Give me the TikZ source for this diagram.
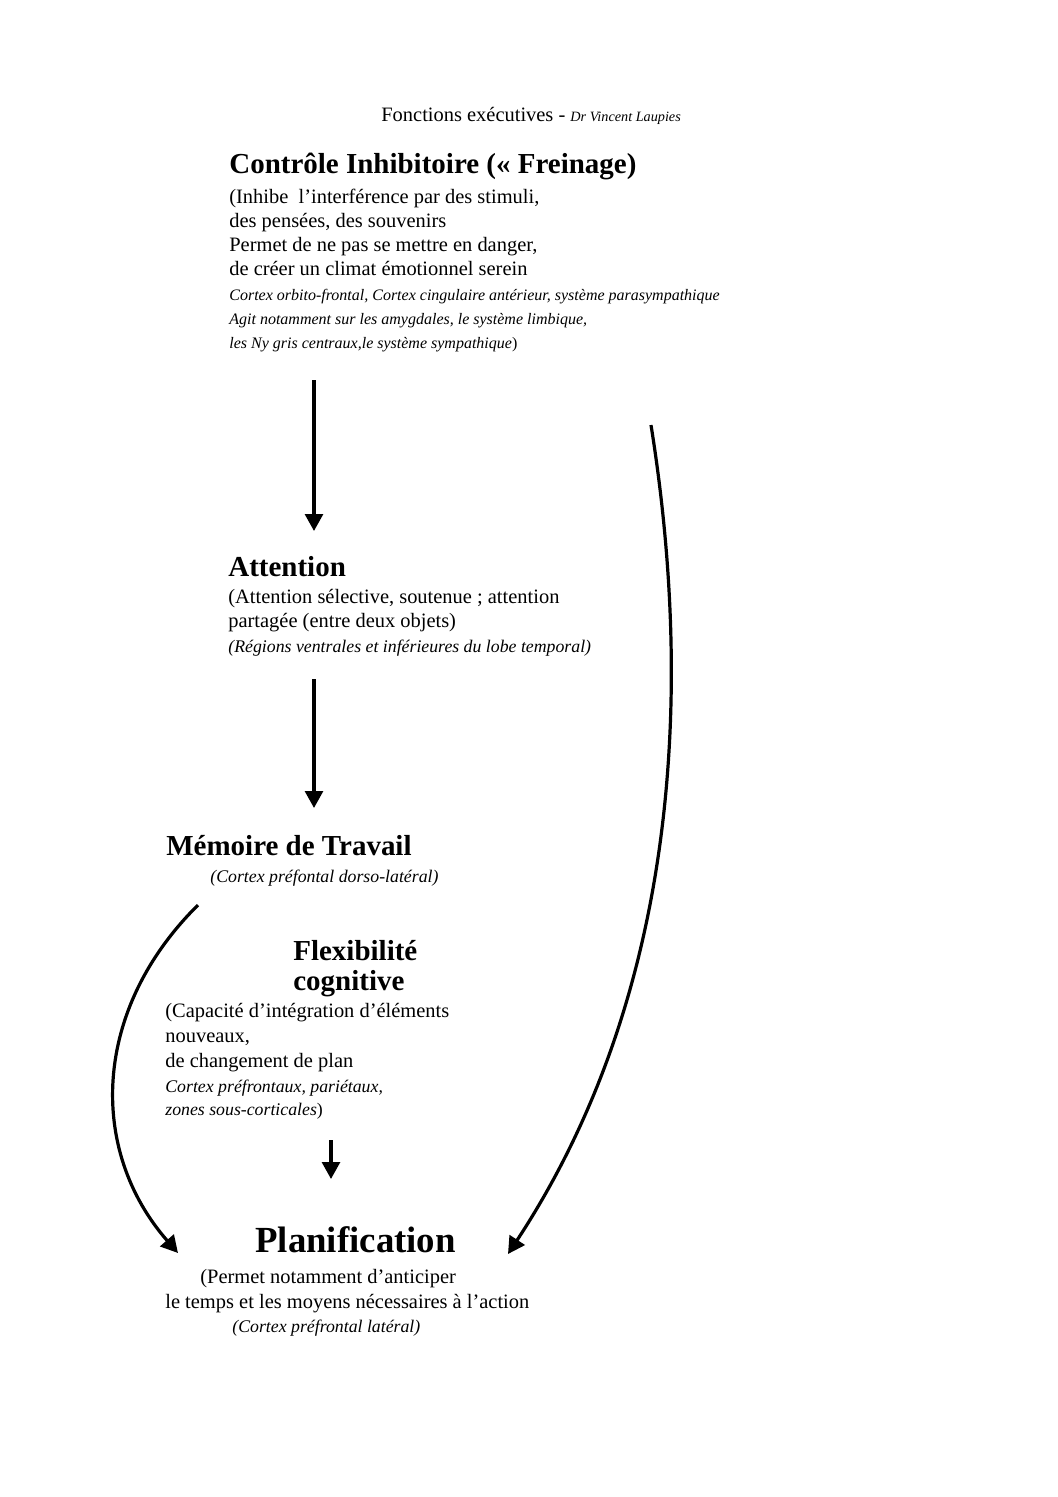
\documentclass[tikz,border=0pt]{standalone}
\usepackage{fontspec}
\setmainfont{Liberation Serif}
\usetikzlibrary{arrows.meta}
\begin{document}
\begin{tikzpicture}[x=0.5624pt,y=-0.5624pt,
  bd/.style={anchor=base west,inner sep=0pt,font=\fontsize{11.5}{14}\selectfont},
  itl/.style={anchor=base west,inner sep=0pt,font=\itshape\fontsize{9}{11}\selectfont},
  itb/.style={anchor=base west,inner sep=0pt,font=\itshape\fontsize{10}{12}\selectfont},
  ttl/.style={anchor=base west,inner sep=0pt,font=\bfseries\fontsize{16.3}{19}\selectfont},
  bigttl/.style={anchor=base west,inner sep=0pt,font=\bfseries\fontsize{20.7}{24}\selectfont},
  arr/.style={line width=1.8pt,-{Triangle[length=9.5pt,width=10pt]}}]
\fill[white] (0,0) rectangle (1058,1497);
\useasboundingbox (0,0) rectangle (1058,1497);

% header
\node[bd] (head) at (381,121) {Fonctions exécutives - {\itshape\fontsize{8}{10}\selectfont Dr Vincent Laupies}};

% Controle inhibitoire
\node[ttl] (c0) at (229,173) {Contrôle Inhibitoire (« Freinage)};
\node[bd] (c1) at (229,203) {(Inhibe\ \ l’interférence par des stimuli,};
\node[bd] (c2) at (229,227) {des pensées, des souvenirs};
\node[bd] (c3) at (229,251) {Permet de ne pas se mettre en danger,};
\node[bd] (c4) at (229,275) {de créer un climat émotionnel serein};
\node[itl] (c5) at (229,300) {Cortex orbito-frontal, Cortex cingulaire antérieur, système parasympathique};
\node[itl] (c6) at (229,324) {Agit notamment sur les amygdales, le système limbique,};
\node[itl] (c7) at (229,348) {les Ny gris centraux,le système sympathique{\upshape)}};

% Attention
\node[ttl] (a0) at (228,576) {Attention};
\node[bd] (a1) at (228,603) {(Attention sélective, soutenue ; attention};
\node[bd] (a2) at (228,627) {partagée (entre deux objets)};
\node[itb] (a3) at (228,652) {(Régions ventrales et inférieures du lobe temporal)};

% Memoire de travail
\node[ttl] (m0) at (166,855) {Mémoire de Travail};
\node[itb] (m1) at (210,882) {(Cortex préfontal dorso-latéral)};

% Flexibilite
\node[ttl] (f0) at (293,960) {Flexibilité};
\node[ttl] (f1) at (293,990) {cognitive};
\node[bd] (f2) at (165,1017) {(Capacité d’intégration d’éléments};
\node[bd] (f3) at (165,1042) {nouveaux,};
\node[bd] (f4) at (165,1067) {de changement de plan};
\node[itb] (f5) at (165,1092) {Cortex préfrontaux, pariétaux,};
\node[itb] (f6) at (165,1115) {zones sous-corticales{\upshape)}};

% Planification
\node[bigttl] (p0) at (255,1252) {Planification};
\node[bd] (p1) at (200,1283) {(Permet notamment d’anticiper};
\node[bd] (p2) at (165,1308) {le temps et les moyens nécessaires à l’action};
\node[itb] (p3) at (232,1332) {(Cortex préfrontal latéral)};

% connector end points
\coordinate (s1) at (314,380);
\coordinate (e1) at (314,531);
\coordinate (s2) at (314,679);
\coordinate (e2) at (314,808);
\coordinate (s3) at (331,1140);
\coordinate (e3) at (331,1179);
\coordinate (sl) at (198,905);
\coordinate (el) at (178,1253);
\coordinate (sr) at (651,425);
\coordinate (er) at (508,1254);

\draw[arr] (s1) -- (e1);
\draw[arr] (s2) -- (e2);
\draw[arr] (s3) -- (e3);
\draw[arr] (sl) .. controls (92,1010) and (88,1150) .. (el);
\draw[arr] (sr) .. controls (695,700) and (675,1000) .. (er);
\end{tikzpicture}
\end{document}
